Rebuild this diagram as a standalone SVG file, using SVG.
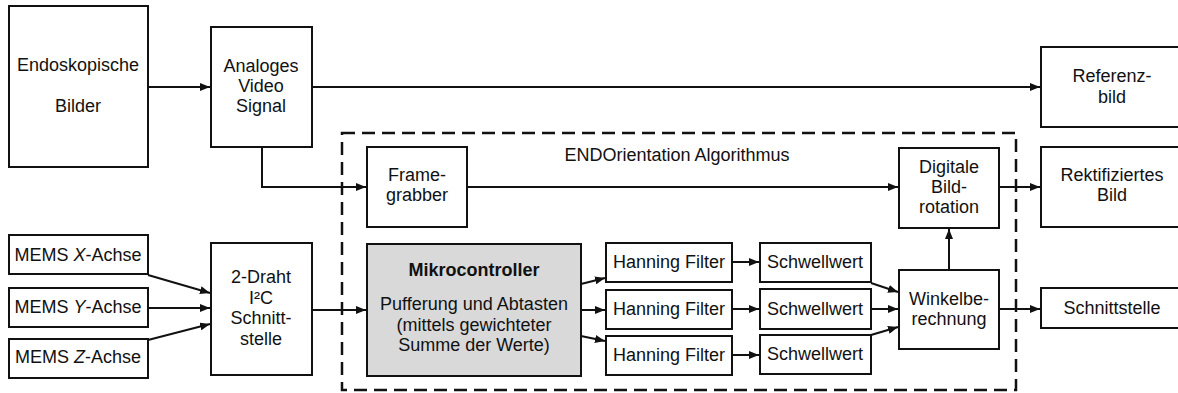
<svg xmlns="http://www.w3.org/2000/svg" width="1178" height="393" viewBox="0 0 1178 393">
<defs>
<marker id="ah" viewBox="0 0 10 8" refX="10" refY="4" markerWidth="10" markerHeight="8" markerUnits="userSpaceOnUse" orient="auto">
<path d="M0,0 L10,4 L0,8 Z" fill="#111"/>
</marker>
<style>
.box{fill:#fff;stroke:#111;stroke-width:2}
.gray{fill:#d9d9d9;stroke:#111;stroke-width:2}
text{font-family:"Liberation Sans",Arial,sans-serif;font-size:18px;fill:#111;text-anchor:middle}
.b{font-weight:bold}
.c{fill:none;stroke:#111;stroke-width:2;marker-end:url(#ah)}
.dash{fill:none;stroke:#111;stroke-width:2.5;stroke-dasharray:13 7}
</style>
</defs>
<rect width="1178" height="393" fill="#fff"/>
<g id="algorithm-frame">
<rect class="dash" x="342" y="133" width="674" height="257"/>
<text x="677" y="161">ENDOrientation Algorithmus</text>
</g>
<g id="endoskopische">
<rect class="box" x="9" y="6" width="139" height="161"/>
<text x="78" y="71">Endoskopische</text>
<text x="78" y="112">Bilder</text>
</g>
<g id="analoges">
<rect class="box" x="211" y="27" width="101" height="120"/>
<text x="261" y="72">Analoges</text>
<text x="261" y="92">Video</text>
<text x="261" y="112">Signal</text>
</g>
<g id="referenz">
<rect class="box" x="1041" y="47" width="160" height="80"/>
<text x="1112" y="82">Referenz-</text>
<text x="1112" y="103">bild</text>
</g>
<g id="framegrabber">
<rect class="box" x="367" y="147" width="100" height="80"/>
<text x="417" y="181">Frame-</text>
<text x="417" y="201">grabber</text>
</g>
<g id="digitale">
<rect class="box" x="899" y="148" width="100" height="80"/>
<text x="949" y="173">Digitale</text>
<text x="949" y="193">Bild-</text>
<text x="949" y="213">rotation</text>
</g>
<g id="rektifiziert">
<rect class="box" x="1041" y="147" width="160" height="80"/>
<text x="1112" y="181">Rektifiziertes</text>
<text x="1112" y="201">Bild</text>
</g>
<g id="mems-x">
<rect class="box" x="9" y="235" width="139" height="39"/>
<text x="78" y="261">MEMS <tspan font-style="italic">X</tspan>-Achse</text>
</g>
<g id="mems-y">
<rect class="box" x="9" y="288" width="139" height="39"/>
<text x="78" y="313">MEMS <tspan font-style="italic">Y</tspan>-Achse</text>
</g>
<g id="mems-z">
<rect class="box" x="9" y="339" width="139" height="39"/>
<text x="78" y="363">MEMS <tspan font-style="italic">Z</tspan>-Achse</text>
</g>
<g id="i2c">
<rect class="box" x="211" y="243" width="101" height="132"/>
<text x="261" y="283">2-Draht</text>
<text x="261" y="304">I²C</text>
<text x="261" y="324">Schnitt-</text>
<text x="261" y="345">stelle</text>
</g>
<g id="mikrocontroller">
<rect class="gray" x="367" y="244" width="214" height="132"/>
<text class="b" x="474" y="276">Mikrocontroller</text>
<text x="474" y="310">Pufferung und Abtasten</text>
<text x="474" y="331">(mittels gewichteter</text>
<text x="474" y="351">Summe der Werte)</text>
</g>
<g id="hanning1">
<rect class="box" x="606" y="243" width="126" height="39"/>
<text x="669" y="268">Hanning Filter</text>
</g>
<g id="hanning2">
<rect class="box" x="606" y="290" width="126" height="39"/>
<text x="669" y="315">Hanning Filter</text>
</g>
<g id="hanning3">
<rect class="box" x="606" y="336" width="126" height="39"/>
<text x="669" y="361">Hanning Filter</text>
</g>
<g id="schwell1">
<rect class="box" x="760" y="243" width="111" height="39"/>
<text x="815" y="268">Schwellwert</text>
</g>
<g id="schwell2">
<rect class="box" x="760" y="289" width="111" height="40"/>
<text x="815" y="315">Schwellwert</text>
</g>
<g id="schwell3">
<rect class="box" x="760" y="335" width="111" height="39"/>
<text x="815" y="360">Schwellwert</text>
</g>
<g id="winkel">
<rect class="box" x="899" y="270" width="100" height="79"/>
<text x="949" y="305">Winkelbe-</text>
<text x="949" y="325">rechnung</text>
</g>
<g id="schnittstelle">
<rect class="box" x="1041" y="288" width="160" height="40"/>
<text x="1112" y="314">Schnittstelle</text>
</g>
<g id="connectors">
<path class="c" d="M148,87 H210"/>
<path class="c" d="M312,87 H1040"/>
<path class="c" d="M262,147 V187 H366"/>
<path class="c" d="M467,187 H898"/>
<path class="c" d="M999,187 H1040"/>
<path class="c" d="M148,275 L210,293"/>
<path class="c" d="M148,308 H210"/>
<path class="c" d="M148,340 L210,324"/>
<path class="c" d="M312,310 H366"/>
<path class="c" d="M581,284 L605,278"/>
<path class="c" d="M581,310 H605"/>
<path class="c" d="M581,336 L605,341"/>
<path class="c" d="M732,262 H759"/>
<path class="c" d="M732,309 H759"/>
<path class="c" d="M732,355 H759"/>
<path class="c" d="M871,283 L898,292"/>
<path class="c" d="M871,309 H898"/>
<path class="c" d="M871,335 L898,327"/>
<path class="c" d="M949,270 V229"/>
<path class="c" d="M999,309 H1040"/>
</g>
</svg>
